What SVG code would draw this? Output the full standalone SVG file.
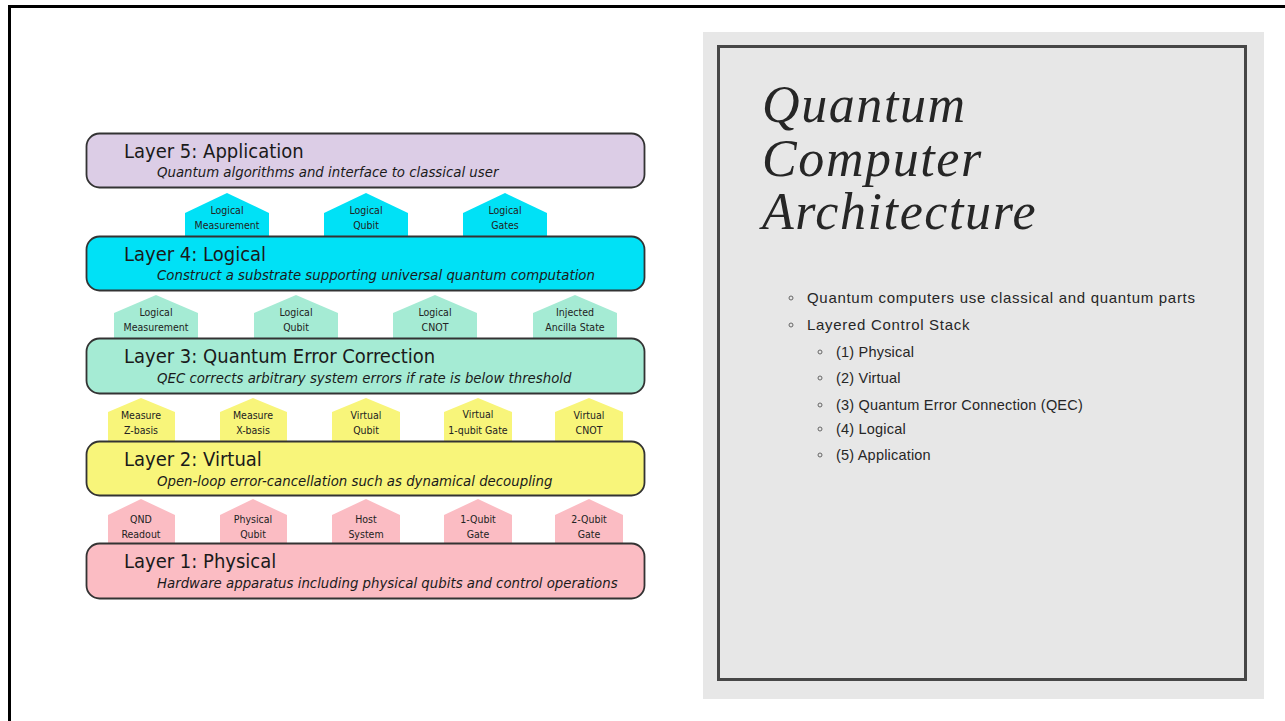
<svg xmlns="http://www.w3.org/2000/svg" width="1285" height="721" viewBox="0 0 1285 721">
  <style>
    .layer { stroke: #333333; stroke-width: 1.8; }
    .title { font-family: "DejaVu Sans Condensed", "Liberation Sans", sans-serif; font-size: 20px; fill: #1a1a1a; }
    .sub { font-family: "DejaVu Sans Condensed", "Liberation Sans", sans-serif; font-size: 14.8px; font-style: italic; fill: #1a1a1a; }
    .tag { font-family: "DejaVu Sans Condensed", "Liberation Sans", sans-serif; font-size: 10.5px; fill: #222; text-anchor: middle; }
    .head { font-family: "Liberation Serif", "DejaVu Serif", serif; font-style: italic; font-size: 52px; letter-spacing: 1.6px; fill: #262626; }
    .bul { font-family: "Liberation Sans", Arial, sans-serif; font-size: 15px; letter-spacing: 0.7px; fill: #262626; }
    .bul2 { font-family: "Liberation Sans", Arial, sans-serif; font-size: 14.5px; letter-spacing: 0.2px; fill: #262626; }
    .dot { fill: none; stroke: #666; stroke-width: 1; }
    .cyan { fill: #00e1f6; }
    .mint { fill: #a5ebd4; }
    .yel { fill: #f8f57a; }
    .pink { fill: #fbbcc3; }
  </style>

  <rect width="1285" height="721" fill="#ffffff"/>
  <!-- slide frame -->
  <path d="M9.5,721 V6.5 H1285" fill="none" stroke="#000" stroke-width="3"/>

  <!-- layer stack -->
  <g id="layer5">
    <rect class="layer" x="86.5" y="133.5" width="558" height="54" rx="13" fill="#dccde6"/>
    <text class="title" x="124" y="158">Layer 5: Application</text>
    <text class="sub" x="157" y="177">Quantum algorithms and interface to classical user</text>
  </g>

  <g id="tags-logical">
    <path class="cyan" d="M185,236 V213 L227,193 L269,213 V236 Z"/>
    <text class="tag" x="227" y="214">Logical</text>
    <text class="tag" x="227" y="229">Measurement</text>
    <path class="cyan" d="M324,236 V213 L366,193 L408,213 V236 Z"/>
    <text class="tag" x="366" y="214">Logical</text>
    <text class="tag" x="366" y="229">Qubit</text>
    <path class="cyan" d="M463,236 V213 L505,193 L547,213 V236 Z"/>
    <text class="tag" x="505" y="214">Logical</text>
    <text class="tag" x="505" y="229">Gates</text>
  </g>

  <g id="layer4">
    <rect class="layer" x="86.5" y="236.5" width="558" height="54" rx="13" fill="#00e1f6"/>
    <text class="title" x="124" y="261">Layer 4: Logical</text>
    <text class="sub" x="157" y="280">Construct a substrate supporting universal quantum computation</text>
  </g>

  <g id="tags-qec">
    <path class="mint" d="M114,338 V313 L156,295 L198,313 V338 Z"/>
    <text class="tag" x="156" y="316">Logical</text>
    <text class="tag" x="156" y="331">Measurement</text>
    <path class="mint" d="M254,338 V313 L296,295 L338,313 V338 Z"/>
    <text class="tag" x="296" y="316">Logical</text>
    <text class="tag" x="296" y="331">Qubit</text>
    <path class="mint" d="M393,338 V313 L435,295 L477,313 V338 Z"/>
    <text class="tag" x="435" y="316">Logical</text>
    <text class="tag" x="435" y="331">CNOT</text>
    <path class="mint" d="M533,338 V313 L575,295 L617,313 V338 Z"/>
    <text class="tag" x="575" y="316">Injected</text>
    <text class="tag" x="575" y="331">Ancilla State</text>
  </g>

  <g id="layer3">
    <rect class="layer" x="86.5" y="338.5" width="558" height="55" rx="13" fill="#a5ebd4"/>
    <text class="title" x="124" y="363">Layer 3: Quantum Error Correction</text>
    <text class="sub" x="157" y="383">QEC corrects arbitrary system errors if rate is below threshold</text>
  </g>

  <g id="tags-virtual">
    <path class="yel" d="M108,441 V412 L141,398 L175,412 V441 Z"/>
    <text class="tag" x="141" y="419">Measure</text>
    <text class="tag" x="141" y="434">Z-basis</text>
    <path class="yel" d="M220,441 V412 L253,398 L287,412 V441 Z"/>
    <text class="tag" x="253" y="419">Measure</text>
    <text class="tag" x="253" y="434">X-basis</text>
    <path class="yel" d="M332,441 V412 L366,398 L400,412 V441 Z"/>
    <text class="tag" x="366" y="419">Virtual</text>
    <text class="tag" x="366" y="434">Qubit</text>
    <path class="yel" d="M444,441 V412 L478,398 L512,412 V441 Z"/>
    <text class="tag" x="478" y="418">Virtual</text>
    <text class="tag" x="478" y="434">1-qubit Gate</text>
    <path class="yel" d="M555,441 V412 L589,398 L623,412 V441 Z"/>
    <text class="tag" x="589" y="419">Virtual</text>
    <text class="tag" x="589" y="434">CNOT</text>
  </g>

  <g id="layer2">
    <rect class="layer" x="86.5" y="441.5" width="558" height="54" rx="13" fill="#f8f57a"/>
    <text class="title" x="124" y="466">Layer 2: Virtual</text>
    <text class="sub" x="157" y="486">Open-loop error-cancellation such as dynamical decoupling</text>
  </g>

  <g id="tags-physical">
    <path class="pink" d="M108,543 V515 L141,499 L175,515 V543 Z"/>
    <text class="tag" x="141" y="523">QND</text>
    <text class="tag" x="141" y="538">Readout</text>
    <path class="pink" d="M220,543 V515 L253,499 L287,515 V543 Z"/>
    <text class="tag" x="253" y="523">Physical</text>
    <text class="tag" x="253" y="538">Qubit</text>
    <path class="pink" d="M332,543 V515 L366,499 L400,515 V543 Z"/>
    <text class="tag" x="366" y="523">Host</text>
    <text class="tag" x="366" y="538">System</text>
    <path class="pink" d="M444,543 V515 L478,499 L512,515 V543 Z"/>
    <text class="tag" x="478" y="523">1-Qubit</text>
    <text class="tag" x="478" y="538">Gate</text>
    <path class="pink" d="M555,543 V515 L589,499 L623,515 V543 Z"/>
    <text class="tag" x="589" y="523">2-Qubit</text>
    <text class="tag" x="589" y="538">Gate</text>
  </g>

  <g id="layer1">
    <rect class="layer" x="86.5" y="543.5" width="558" height="55" rx="13" fill="#fbbcc3"/>
    <text class="title" x="124" y="568">Layer 1: Physical</text>
    <text class="sub" x="157" y="588">Hardware apparatus including physical qubits and control operations</text>
  </g>

  <!-- text panel -->
  <g id="panel">
    <rect x="703" y="32" width="561" height="667" fill="#e7e7e7"/>
    <rect x="718.5" y="46.5" width="527" height="633" fill="none" stroke="#474747" stroke-width="3"/>
    <text class="head" x="762" y="122">Quantum</text>
    <text class="head" x="762" y="176">Computer</text>
    <text class="head" x="762" y="229">Architecture</text>

    <circle class="dot" cx="791" cy="298" r="2"/>
    <text class="bul" x="807" y="303">Quantum computers use classical and quantum parts</text>
    <circle class="dot" cx="791" cy="325" r="2"/>
    <text class="bul" x="807" y="330">Layered Control Stack</text>
    <circle class="dot" cx="820" cy="352" r="2"/>
    <text class="bul2" x="836" y="357">(1) Physical</text>
    <circle class="dot" cx="820" cy="378" r="2"/>
    <text class="bul2" x="836" y="383">(2) Virtual</text>
    <circle class="dot" cx="820" cy="405" r="2"/>
    <text class="bul2" x="836" y="410">(3) Quantum Error Connection (QEC)</text>
    <circle class="dot" cx="820" cy="429" r="2"/>
    <text class="bul2" x="836" y="434">(4) Logical</text>
    <circle class="dot" cx="820" cy="455" r="2"/>
    <text class="bul2" x="836" y="460">(5) Application</text>
  </g>
</svg>
